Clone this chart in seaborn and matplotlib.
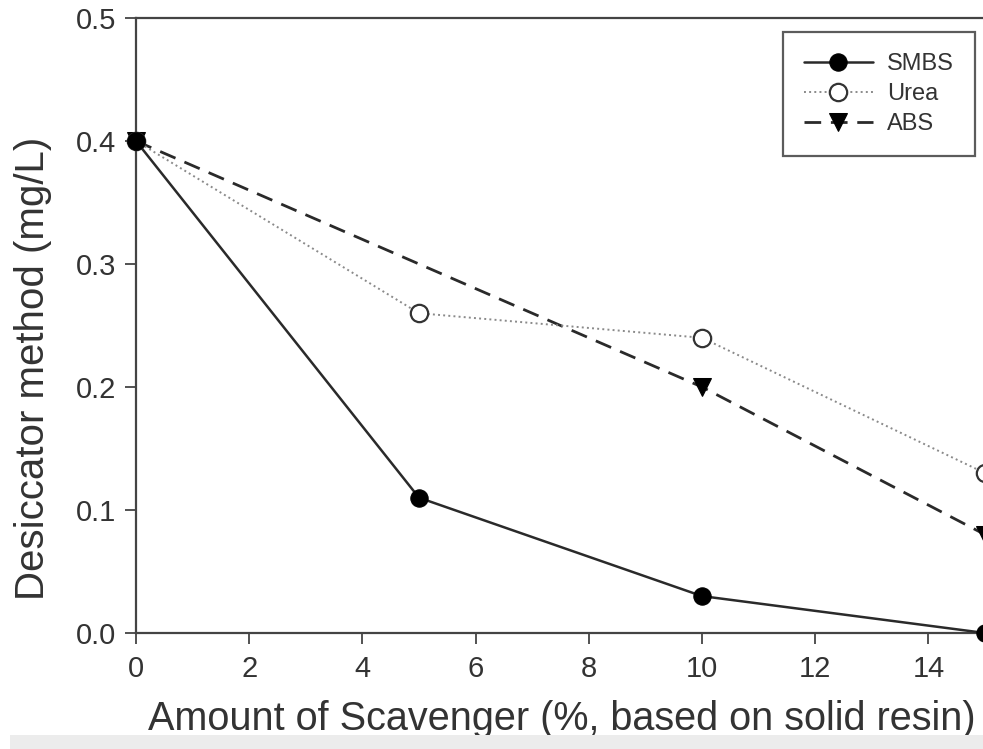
import matplotlib
matplotlib.use("Agg")
import matplotlib.pyplot as plt
import seaborn as sns
import pandas as pd
from matplotlib.patches import Rectangle

smbs_x = [0, 5, 10, 15]
smbs_y = [0.40, 0.11, 0.03, 0.0]
urea_x = [0, 5, 10, 15]
urea_y = [0.40, 0.26, 0.24, 0.13]
abs_x = [0, 10, 15]
abs_y = [0.40, 0.20, 0.08]
x_ticks = [0, 2, 4, 6, 8, 10, 12, 14]
y_ticks = [0.0, 0.1, 0.2, 0.3, 0.4, 0.5]

sns.set_theme(style="ticks")
plt.rcParams['font.family'] = ['Liberation Sans', 'DejaVu Sans']

W, H = 983, 749
fig = plt.figure(figsize=(W / 100, H / 100), dpi=100)
fig.patches.append(Rectangle((10 / W, 0), 1, 14 / H, transform=fig.transFigure,
                             facecolor="#ececec", edgecolor="none", zorder=0))

x0_px, unit_px = 136, 56.6
xmax = 16
axw_px = xmax * unit_px
left = x0_px / W
width = axw_px / W
bottom = (H - 633) / H
height = 615 / H
ax = fig.add_axes([left, bottom, width, height])

df_s = pd.DataFrame({"x": smbs_x, "y": smbs_y})
df_u = pd.DataFrame({"x": urea_x, "y": urea_y})
df_a = pd.DataFrame({"x": abs_x, "y": abs_y})

ms = 12.5
sns.lineplot(data=df_s, x="x", y="y", ax=ax, color="#2a2a2a", linewidth=1.8,
             marker="o", markersize=ms, markerfacecolor="black", markeredgecolor="black",
             label="SMBS", clip_on=False)
sns.lineplot(data=df_u, x="x", y="y", ax=ax, color="#8a8a8a", linewidth=1.4, linestyle=":",
             marker="o", markersize=ms, markerfacecolor="white", markeredgecolor="#333333",
             markeredgewidth=1.6, label="Urea", clip_on=False)
sns.lineplot(data=df_a, x="x", y="y", ax=ax, color="#2a2a2a", linewidth=2.0,
             marker="v", markersize=ms, markerfacecolor="black",
             markeredgecolor="black", label="ABS", clip_on=False)
ax.lines[2].set_linestyle((0, (6, 3.5)))
ax.lines[0].set_zorder(5)
ax.lines[1].set_zorder(4)
ax.lines[2].set_zorder(3)

ax.set_xlim(0, xmax)
ax.set_ylim(0, 0.5)
ax.set_xticks(x_ticks)
ax.set_yticks(y_ticks)
ax.set_yticklabels([f"{v:.1f}" for v in y_ticks])
ax.tick_params(axis="both", direction="out", length=8, width=1.3, colors="#444444",
               labelsize=21, labelcolor="#333333")
ax.tick_params(axis="x", pad=8)
ax.tick_params(axis="y", pad=6)
for s in ["left", "bottom", "top"]:
    ax.spines[s].set_linewidth(1.6)
    ax.spines[s].set_color("#444444")
ax.spines["right"].set_visible(False)

ax.set_xlabel("Amount of Scavenger (%, based on solid resin)", fontsize=28.5, color="#333333")
ax.set_ylabel("Desiccator method (mg/L)", fontsize=29, color="#333333")
ax.xaxis.set_label_coords((562 - x0_px) / axw_px, (633 - 700) / 615)
ax.yaxis.set_label_coords((52 - x0_px) / axw_px, (633 - 368) / 615)

leg = ax.legend(loc="upper right", bbox_to_anchor=(975 / W, 1 - 32 / H),
                bbox_transform=fig.transFigure, fontsize=17, frameon=True,
                fancybox=False, edgecolor="#333333", handlelength=2.9,
                handletextpad=0.6, borderpad=0.9, labelspacing=0.33, borderaxespad=0)
leg.get_frame().set_linewidth(1.6)
for t in leg.get_texts():
    t.set_color("#333333")

fig.savefig("out.png", dpi=100)
